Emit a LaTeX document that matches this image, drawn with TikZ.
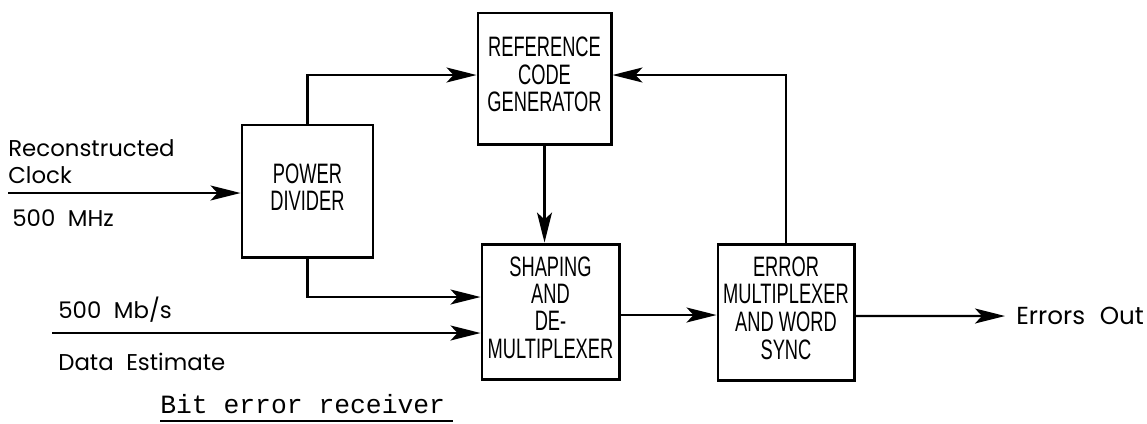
\documentclass[tikz,border=0pt]{standalone}
\usepackage{fontspec}
\usepackage{graphicx}
\setmainfont{Poppins}
\newfontfamily\blockfont{Liberation Sans}
\newfontfamily\captionfont{Liberation Mono}
\usetikzlibrary{arrows.meta,positioning}
\newcommand{\narrowtext}[1]{\scalebox{0.65}[1]{\begin{tabular}{@{}c@{}}#1\end{tabular}}}
\newcommand{\widespace}[1]{\spaceskip #1\relax}
\tikzset{
  block/.style = {draw, line width=1.7pt, inner sep=0pt,
                  font=\blockfont\fontsize{16}{15.3}\selectfont},
  ar/.style    = {-{Stealth[length=6mm, width=3mm, inset=1.4mm]}, line width=1.3pt},
  lbl/.style   = {font=\fontsize{13}{14}\selectfont\widespace{0.55em},
                  anchor=west, inner sep=0pt},
}
\begin{document}
\begin{tikzpicture}[x=0.2mm, y=-0.2mm]
    \useasboundingbox (0,0) rectangle (1147,423);

    % blocks
    \node[block, minimum width=26.2mm, minimum height=26.4mm] (pd) at (307.5,191)
         {\narrowtext{POWER\\DIVIDER}};
    \node[block, minimum width=26.6mm, minimum height=26.2mm] (ref) at (544.5,78.5)
         {\narrowtext{REFERENCE\\CODE\\GENERATOR}};
    \node[block, minimum width=27.4mm, minimum height=27mm] (sh) at (550.5,311.5)
         {\narrowtext{SHAPING\\AND\\DE-\\MULTIPLEXER}};
    \node[block, minimum width=27.2mm, minimum height=27.2mm] (er) at (786,312)
         {\narrowtext{ERROR\\MULTIPLEXER\\AND WORD\\SYNC}};

    % inputs and output
    \coordinate (clkin) at (8,193);
    \coordinate (datain) at (52,333);
    \coordinate (errout) at (1005,316);

    \node[lbl] (recon) at (8,148) {Reconstructed};
    \node[lbl] (clock) at (8,175) {Clock};
    \node[lbl] (mhz) at (12,218) {500 MHz};
    \node[lbl] (mbs) at (58,310) {500 Mb/s};
    \node[lbl] (est) at (58,362) {Data Estimate};
    \node[lbl, font=\fontsize{14}{15}\selectfont\widespace{0.6em}]
         (out) at (1016,316) {Errors Out};

    % connectors
    \draw[ar] (clkin) -- (clkin -| pd.west);
    \draw[ar] (pd.north) |- ([yshift=0.7mm]ref.west);
    \draw[ar] (ref.south) -- (ref.south |- sh.north);
    \draw[ar] (pd.south) |- ([yshift=2.9mm]sh.west);
    \draw[ar] (datain) -- (datain -| sh.west);
    \draw[ar] ([yshift=-0.7mm]sh.east) -- ([yshift=-0.7mm]sh.east -| er.west);
    \draw[ar] (er.north) |- ([yshift=0.7mm]ref.east);
    \draw[ar] ([yshift=-0.8mm]er.east) -- (errout);

    % caption
    \node[font=\captionfont\fontsize{15}{16}\selectfont, anchor=west, inner sep=0pt]
         (cap) at (160,404) {Bit error receiver};
    \draw[line width=0.9pt] (160,421) -- (453,421);
\end{tikzpicture}
\end{document}
